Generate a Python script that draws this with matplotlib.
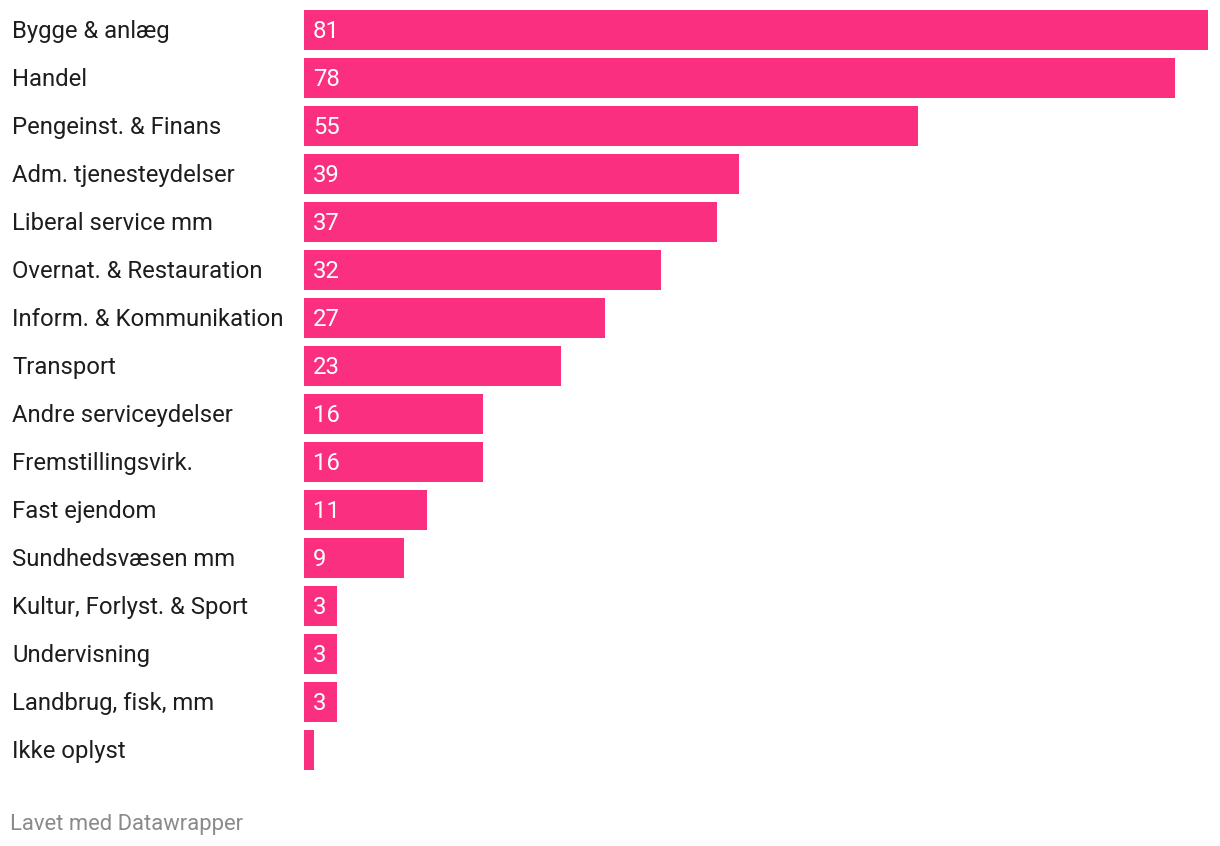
import matplotlib
matplotlib.use("Agg")
import matplotlib.pyplot as plt

categories = ["Bygge & anlæg", "Handel", "Pengeinst. & Finans", "Adm. tjenesteydelser",
              "Liberal service mm", "Overnat. & Restauration", "Inform. & Kommunikation",
              "Transport", "Andre serviceydelser", "Fremstillingsvirk.", "Fast ejendom",
              "Sundhedsvæsen mm", "Kultur, Forlyst. & Sport", "Undervisning",
              "Landbrug, fisk, mm", "Ikke oplyst"]
values = [81, 78, 55, 39, 37, 32, 27, 23, 16, 16, 11, 9, 3, 3, 3, 0.9]
value_labels = ["81", "78", "55", "39", "37", "32", "27", "23", "16", "16", "11", "9",
                "3", "3", "3", ""]

W, H = 1220, 846
fig = plt.figure(figsize=(W / 100, H / 100), dpi=100)
ax = fig.add_axes([304 / W, 1 - 774 / H, (1208 - 304) / W, (774 - 6) / H])
color = "#fa2f80"
n = len(categories)
ys = list(range(n))
ax.barh(ys, values, height=40 / 48, color=color)
ax.set_xlim(0, max(values))
ax.set_ylim(n - 0.5, -0.5)
ax.axis("off")

font = "Roboto"
fs = 17.2
for y, cat, v, lab in zip(ys, categories, values, value_labels):
    ax.annotate(cat, xy=(0, y), xycoords=("axes fraction", "data"),
                xytext=(-292, 1), textcoords="offset pixels",
                ha="left", va="center_baseline", fontsize=fs, family=font, color="#1d1d1d")
    if lab:
        ax.annotate(lab, xy=(0, y), xycoords="data", xytext=(9, 1),
                    textcoords="offset pixels", ha="left", va="center_baseline",
                    fontsize=fs, family=font, color="white")

fig.text(10 / W, 1 - 822 / H, "Lavet med Datawrapper", ha="left", va="center_baseline",
         fontsize=15.8, family=font, color="#8a8a8a")

fig.savefig("out.png", dpi=100, facecolor="white")
